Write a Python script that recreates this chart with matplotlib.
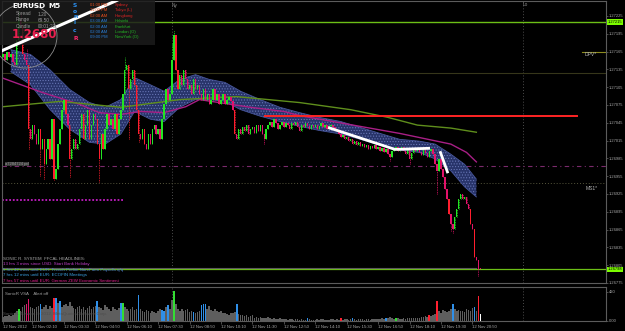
import numpy as np
import matplotlib
matplotlib.use("Agg")
import matplotlib.pyplot as plt
from matplotlib.patches import Rectangle, Ellipse
from matplotlib.transforms import blended_transform_factory as blend

W, H = 625, 331
BASE = 1.26700          # price = BASE + points * 1e-5
PT = 1e-5

# ---------------- data (points above BASE) ----------------
first_open = 455
closes = [
    460, 451, 465, 455, 460, 448, 443, 485, 518, 510, 460, 451, 443,
    334, 317, 342, 326, 309, 334, 300, 317, 275, 300, 317, 284,
    351, 250, 267, 309, 334, 367, 384, 359, 342,
    284, 300, 317, 300, 309, 334, 359, 317, 342, 367, 317, 342, 359, 351,
    309, 284, 326, 300, 334, 359, 342, 351, 334, 359, 326, 351, 367, 393,
    434, 443, 401, 418, 434, 409, 367, 326, 317, 334, 309, 300,
    326, 309, 334, 342, 326, 334, 317, 351, 376, 401, 384, 393,
    451, 493, 434, 401, 426, 409, 434, 418, 401, 409, 393, 418, 401, 409, 393,
    384, 401, 384, 393, 376, 384, 401, 384, 393, 376, 384, 393, 376, 384, 388, 381,
    367, 326, 317, 334, 326, 337, 331, 342, 326, 334, 337, 327, 341, 331, 342, 326,
    317, 334, 342, 347, 337, 351, 344, 334, 341, 347, 337, 344, 341, 334, 344, 341, 347, 337,
    331, 342, 337, 344, 339, 334, 341, 337, 342, 334, 339, 344, 337, 341, 334, 339, 342, 337, 334, 331,
    326, 321, 324, 317, 321, 314, 317, 310, 314, 307, 312, 305, 309, 304, 307, 300, 305, 302, 307, 300,
    304, 297, 302, 295, 300, 292, 287, 297, 300, 304, 297, 300, 304, 297, 292, 300, 284, 294, 300, 297,
    302, 295, 290, 300, 294, 287, 297, 300, 292, 275, 264, 284, 267, 254, 233, 217, 191, 175, 166,
    186, 200, 217, 225, 217, 220, 208, 200, 175, 166, 119, 113, 99, 98,
]
wick_hi = {8: 535, 9: 530, 12: 470, 62: 455, 86: 480, 87: 502}
wick_lo = {13: 300, 19: 255, 21: 250, 26: 248, 34: 254, 49: 245, 64: 317, 69: 312,
           133: 309, 197: 280, 207: 275, 221: 225, 228: 163, 229: 160, 242: 87}

# moving-average ribbon ("dragon") and lines, read at knots
dragon_i = [4, 14, 24, 34, 44, 52, 60, 67, 75, 82, 90, 98, 105, 113, 121, 131, 141, 151,
            161, 172, 182, 192, 202, 212, 220, 228, 235, 241]
dragon_hi = [468, 460, 434, 401, 379, 371, 384, 421, 409, 398, 418, 426, 418, 413, 398, 384,
             371, 362, 354, 347, 337, 327, 317, 314, 309, 292, 275, 250]
dragon_lo = [431, 409, 367, 334, 312, 309, 326, 364, 351, 347, 371, 384, 384, 381, 367, 356,
             347, 339, 332, 326, 317, 307, 299, 295, 284, 264, 237, 220]
mag_i = [0, 20, 39, 49, 60, 70, 82, 93, 100, 126, 143, 151, 168, 185, 202, 228, 236, 241]
mag_v = [420, 396, 376, 362, 359, 364, 362, 372, 384, 371, 364, 357, 347, 337, 327, 309, 295, 279]
olv_i = [0, 29, 60, 90, 119, 151, 177, 196, 211, 228, 241]
olv_v = [372, 381, 371, 384, 389, 379, 367, 354, 341, 336, 329]

# zigzag / trend lines
zz1_i, zz1_v = [165.5, 199.6, 217.4], [337, 300, 302]
zz2_i, zz2_v = [222.5, 226.5], [297, 260]
tl_i, tl_v = [-1.5, 58.6], [465, 552]

# horizontal levels (points)
lvl_top_green = 515
lvl_olive = 429
lvl_dpv = 465
lvl_red = 357
lvl_pink = 272
lvl_ms1 = 243
lvl_magdot = 215
lvl_bid = 98
lvl_gray = 100

volumes = [
    60, 75, 70, 85, 70, 90, 110, 150, 180, 140,
    200, 230, 250, 325, 205, 190, 180, 200, 215, 245,
    170, 200, 230, 180, 210, 190, 335, 335, 260, 285,
    200, 230, 250, 210, 275, 220, 190, 180, 200, 210,
    170, 200, 160, 190, 210, 180, 200, 220, 285, 200,
    190, 160, 230, 200, 170, 150, 200, 180, 160, 190,
    265, 265, 200, 170, 150, 180, 200, 160, 180, 380,
    170, 150, 130, 160, 140, 120, 150, 130, 110, 140,
    170, 160, 150, 200, 230, 180, 300, 430, 250, 170,
    150, 180, 140, 160, 170, 130, 150, 130, 110, 130,
    150, 230, 250, 240, 180, 220, 160, 150, 170, 140,
    130, 150, 120, 110, 100, 90, 110, 120, 130, 245,
    100, 90, 80, 70, 90, 60, 70, 80, 50, 60,
    50, 60, 40, 50, 45, 55, 40, 30, 45, 35,
    30, 40, 25, 35, 30, 20, 25, 30, 20, 25,
    30, 20, 25, 15, 20, 45, 30, 20, 15, 20,
    25, 20, 30, 25, 20, 15, 20, 25, 30, 20,
    25, 20, 45, 20, 25, 30, 20, 25, 40, 30,
    20, 25, 30, 25, 20, 30, 25, 20, 30, 35,
    30, 25, 30, 40, 35, 45, 45, 55, 40, 35,
    50, 40, 35, 30, 40, 35, 45, 50, 40, 45,
    40, 50, 45, 55, 60, 70, 60, 80, 70, 90,
    100, 285, 150, 120, 160, 140, 130, 150, 180, 240,
    170, 150, 160, 140, 150, 130, 170, 160, 150, 190,
    200, 150, 360, 95,
]
vol_blue = [19, 27, 29, 48, 60, 69, 81, 82, 84, 97, 101, 102, 103, 119, 155, 178, 195, 229, 240]
vol_green = [8, 61, 87, 200]
vol_red = [26, 172, 217, 221, 242]
vol_pink = [12, 13]
vol_white = [243]

y_ticks = [1.27225, 1.27195, 1.27165, 1.27135, 1.27105, 1.27075, 1.27045, 1.27015,
           1.26985, 1.26955, 1.26925, 1.26895, 1.26865, 1.26835, 1.26805, 1.26775]
x_tick_pos = [0, 15, 31, 47, 63, 79, 95, 111, 127, 143, 159, 175, 191, 207, 223, 239]
x_tick_labels = ["12 Nov 2012", "12 Nov 02:10", "12 Nov 03:30", "12 Nov 04:50",
                 "12 Nov 06:10", "12 Nov 07:30", "12 Nov 08:50", "12 Nov 10:10",
                 "12 Nov 11:30", "12 Nov 12:50", "12 Nov 14:10", "12 Nov 15:30",
                 "12 Nov 16:50", "12 Nov 18:10", "12 Nov 19:30", "12 Nov 20:50"]

sess_times = ["01:00 PM", "11:00 PM", "02:00 AM", "03:00 AM", "02:00 AM", "02:00 AM", "09:00 PM"]
sess_names = ["Sydney", "Tokyo (L)", "Hongkong", "Helsinki", "Frankfurt", "London (O)", "NewYork (O)"]
headlines = [
    ("SONIC R. SYSTEM  FFCAL HEADLINES:", "#a8a8a8"),
    ("13 hrs 3 mins since USD: Start Bank Holiday", "#c03cc8"),
    ("5 hrs 42 mins until EUR: French Prelim Non-Farm Payrolls q/q", "#4f7fd8"),
    ("7 hrs 12 mins until EUR: ECOFIN Meetings", "#3aa0e0"),
    ("7 hrs 57 mins until EUR: German ZEW Economic Sentiment", "#e0208c"),
]


def P(v):
    return BASE + np.asarray(v, dtype=float) * PT


plt.rcParams["hatch.linewidth"] = 0.45
SMALL = "Liberation Sans"

fig = plt.figure(figsize=(W / 100, H / 100), dpi=100, facecolor="black")


def rect(x0, y0, x1, y1):
    return [x0 / W, 1 - y1 / H, (x1 - x0) / W, (y1 - y0) / H]


def fp(x, y):
    return x / W, 1 - y / H


ax = fig.add_axes(rect(2, 1, 606, 283))
ax.set_facecolor("black")
ax.set_xlim(-0.51, 307)
ax.set_ylim(P(77.5), P(550.1))
for s in ax.spines.values():
    s.set_color("#5c5c5c")
    s.set_linewidth(0.8)

# levels
ax.axhline(P(lvl_top_green), color="#6cbf16", lw=1.0, zorder=0.5)
ax.axhline(P(lvl_olive), color="#36361a", lw=0.8, zorder=0.5)
ax.plot([294.8, 306.5], [P(lvl_dpv)] * 2, color="#8c8a1e", lw=0.8, zorder=0.5)
ax.plot([133.4, 292.3], [P(lvl_red)] * 2, color="#ff2424", lw=1.4, zorder=2.6)
ax.axhline(P(lvl_pink), color="#7a2a6c", lw=0.8, ls=(0, (4, 3, 1, 3)), zorder=0.5)
ax.axhline(P(lvl_ms1), color="#56563c", lw=0.7, ls=(0, (1, 2)), zorder=0.5)
ax.plot([-0.5, 61.6], [P(lvl_magdot)] * 2, color="#c41cc4", lw=1.3, ls=(0, (1, 1)), zorder=0.5)
ax.axhline(P(lvl_bid), color="#6cbf16", lw=0.9, zorder=0.5)
ax.plot([0, 241], [P(lvl_gray)] * 2, color="#5a5a5a", lw=0.8, zorder=0.6)
for xv in (86, 264.8):
    ax.axvline(xv, color="#4c4c4c", lw=0.7, ls=(0, (1, 2)), zorder=0.4)

# ribbon + MAs
ax.fill_between(dragon_i, P(dragon_lo), P(dragon_hi), facecolor="#28346a",
                edgecolor="#6a78b8", hatch="......", lw=0, zorder=1)
ax.plot(dragon_i, P(dragon_hi), color="#46559a", lw=0.6, zorder=1.1)
ax.plot(dragon_i, P(dragon_lo), color="#46559a", lw=0.6, zorder=1.1)
ax.plot(mag_i, P(mag_v), color="#a81f86", lw=1.0, zorder=1.5)
ax.plot(olv_i, P(olv_v), color="#5f8e1c", lw=1.0, zorder=1.5)

# candles
c = np.array(closes, dtype=float)
o = np.r_[first_open, c[:-1]]
hi = np.maximum(o, c)
lo = np.minimum(o, c)
for k, v in wick_hi.items():
    hi[k] = max(hi[k], v)
for k, v in wick_lo.items():
    lo[k] = min(lo[k], v)
idx = np.arange(len(c))
up = c >= o
big = (o - c) >= 25
cols = np.where(up, "#22e622", np.where(big, "#ff1e2e", "#e3126a"))
ax.vlines(idx, P(lo), P(hi), colors=cols, lw=0.6, ls=(0, (1, 1)), zorder=3)
bottom = np.minimum(o, c)
height = np.maximum(np.abs(c - o), 1.5)
ax.bar(idx, height * PT, bottom=P(bottom), width=0.72, color=cols, lw=0, zorder=3.5)

# trend / zigzag lines
ax.plot(zz1_i, P(zz1_v), color="white", lw=2.0, zorder=4, solid_capstyle="butt")
ax.plot(zz2_i, P(zz2_v), color="white", lw=2.0, zorder=4, solid_capstyle="butt")

# right price axis
ax.set_xticks([])
ax.yaxis.tick_right()
ax.set_yticks(y_ticks)
ax.set_yticklabels([f"{t:.5f}" for t in y_ticks])
ax.tick_params(axis="y", color="#6a6a6a", labelcolor="#a8a8a8", labelsize=2.9,
               length=1.5, width=0.5, pad=0.8)
for lbl in ax.get_yticklabels():
    lbl.set_fontfamily(SMALL)
trY = blend(ax.transAxes, ax.transData)
for lv in (lvl_top_green, lvl_bid):
    ax.text(1.003, P(lv), f"{BASE + lv * PT:.5f}", transform=trY, fontsize=2.9,
            family=SMALL, color="black", va="center", ha="left", clip_on=False, zorder=8,
            bbox=dict(boxstyle="square,pad=0.2", fc="#7cfc00", ec="none"))

# info panel (top-left)
tf = fig.transFigure
ax.add_patch(Rectangle(fp(0, 45), 155 / W, 45 / H, transform=tf, fc="#1c1c1c",
                       ec="none", alpha=0.85, zorder=5, clip_on=False))
ax.plot(tl_i, P(tl_v), color="white", lw=2.2, zorder=6, solid_capstyle="butt")
ax.add_patch(Ellipse(fp(25, 36), 64 / W, 64 / H, transform=tf, fill=False,
                     ec="#8c8c8c", lw=0.6, zorder=6, clip_on=False))


def ftext(x, y, s, color, size, **kw):
    kw.setdefault("family", SMALL)
    ax.text(*fp(x, y), s, transform=tf, color=color, fontsize=size, va="center",
            ha=kw.pop("ha", "left"), clip_on=False, zorder=7, **kw)


ftext(12, 6, "EURUSD", "white", 5.2, weight="bold", family="DejaVu Sans")
ftext(48, 6, "M5", "white", 5.2, weight="bold", family="DejaVu Sans")
ftext(16, 14, "Spread", "#9a9a9a", 3.4)
ftext(38, 14, "1.20", "#9a9a9a", 3.4)
ftext(16, 20, "Range", "#9a9a9a", 3.4)
ftext(38, 20, "69.50", "#9a9a9a", 3.4)
ftext(16, 26, "Candle", "#9a9a9a", 3.4)
ftext(38, 26, "00:01:23", "#9a9a9a", 3.4)
ftext(12, 34, "1.2680", "#e8204e", 8.5, weight="bold", family="DejaVu Sans")
for ch, yy, colr in zip("SonicR", (5.5, 11.5, 17, 23, 31, 38),
                        ("#2a8ff0", "#2a8ff0", "#2a8ff0", "#2a8ff0", "#2a8ff0", "#ff2a70")):
    ftext(73, yy, ch, colr, 4.3, weight="bold", family="DejaVu Sans")
for k, (t, n) in enumerate(zip(sess_times, sess_names)):
    yy = 5 + 5.4 * k
    ftext(90, yy, t, "#e8501e" if k < 3 else "#2a7fd8", 3.0)
    ftext(115, yy, n, "#e02424" if k < 3 else "#24b824", 3.0)

# level / marker labels
ftext(172, 6, "Ny", "#8a8a8a", 3.4)
ftext(523, 5, "Lo", "#8a8a8a", 3.4)
ftext(585, 55, "DPV*", "#b4b4b4", 3.6)
ftext(586, 188, "MS1*", "#b4b4b4", 3.6)
ftext(5, 164, "a7284724 pd", "#9a9a9a", 3.0,
      bbox=dict(boxstyle="square,pad=0.1", fc="#3a3a3a", ec="none"))
for k, (s, colr) in enumerate(headlines):
    ftext(3, 258.5 + 5.6 * k, s, colr, 3.2)

# ---------------- volume sub-window ----------------
av = fig.add_axes(rect(2, 287, 606, 321))
av.set_facecolor("black")
av.set_xlim(-0.51, 307)
av.set_ylim(0, 492)
for s in av.spines.values():
    s.set_color("#5c5c5c")
    s.set_linewidth(0.8)
vcols = ["#5e5e5e"] * len(volumes)
for lst, colr in ((vol_blue, "#2f8fe8"), (vol_green, "#33dd33"), (vol_red, "#ff2030"),
                  (vol_pink, "#e0186a"), (vol_white, "#ffffff")):
    for k in lst:
        vcols[k] = colr
av.bar(np.arange(len(volumes)), volumes, width=0.8, color=vcols, lw=0, zorder=2)
for xv in (86, 264.8):
    av.axvline(xv, color="#4c4c4c", lw=0.7, ls=(0, (1, 2)), zorder=1)
av.yaxis.tick_right()
av.set_yticks([0, 420])
av.set_yticklabels(["0.00", "420"])
av.tick_params(axis="y", color="#6a6a6a", labelcolor="#a8a8a8", labelsize=3.0,
               length=1.5, width=0.5, pad=0.8)
av.set_xticks(x_tick_pos)
av.set_xticklabels(x_tick_labels)
av.tick_params(axis="x", color="#6a6a6a", labelcolor="#a8a8a8", labelsize=3.1,
               length=2, width=0.5, pad=1.0)
for lbl in av.get_xticklabels() + av.get_yticklabels():
    lbl.set_fontfamily(SMALL)
for lbl in av.get_xticklabels():
    lbl.set_ha("left")
av.text(*fp(5, 294), "SonicR VSA    Alert off", transform=tf, color="#a0a0a0",
        fontsize=3.2, family=SMALL, va="center", zorder=5)
av.text(*fp(3, 314), "Sonic R. System \u00a9 2012, MetaQuotes Software Corp.", transform=tf,
        color="#4e4e4e", fontsize=3.2, family=SMALL, va="center", zorder=5)

fig.savefig("out.png", dpi=100, facecolor="black")
